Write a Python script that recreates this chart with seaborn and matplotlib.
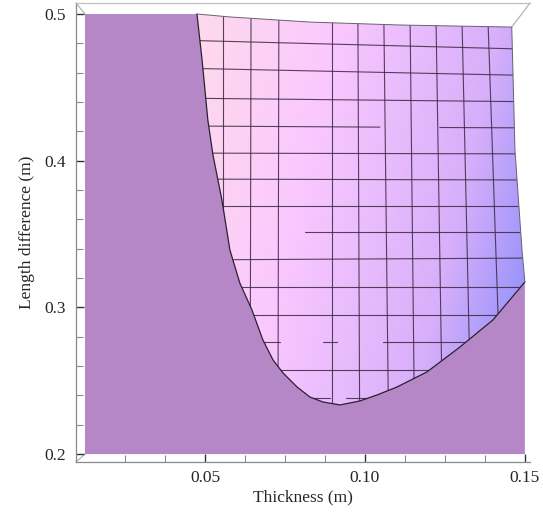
import numpy as np
import matplotlib
matplotlib.use("Agg")
import matplotlib.pyplot as plt
import seaborn as sns
from matplotlib.patches import Polygon
from matplotlib.ticker import FixedLocator

# ── data ────────────────────────────────────────────────────
thick_range = [0.0125, 0.15]      # x extent of the plotted region
diff_range = [0.2, 0.5]           # y extent of the plotted region

# outline of the surface patch, clockwise from the top-left corner
edge_thick = [0.0475, 0.0578, 0.0828, 0.1109, 0.1459, 0.1469, 0.1491, 0.1500,
              0.1400, 0.1297, 0.1194, 0.1100, 0.1038, 0.0984, 0.0922, 0.0869,
              0.0828, 0.0788, 0.0744, 0.0713, 0.0681, 0.0647, 0.0609, 0.0578,
              0.0553, 0.0525, 0.0509, 0.0491, 0.0475]
edge_diff = [0.5000, 0.4980, 0.4945, 0.4925, 0.4911, 0.4073, 0.3391, 0.3173,
             0.2914, 0.2730, 0.2560, 0.2457, 0.2403, 0.2362, 0.2335, 0.2355,
             0.2389, 0.2457, 0.2553, 0.2641, 0.2778, 0.2982, 0.3166, 0.3391,
             0.3732, 0.4039, 0.4277, 0.4686, 0.5000]

# mesh lines of the surface (thickness direction), x at top / bottom
mesh_x_top = [0.0556, 0.0644, 0.0731, 0.0897, 0.0978, 0.1059, 0.1141, 0.1222, 0.1303, 0.1384]
mesh_x_bot = [0.0556, 0.0641, 0.0728, 0.0897, 0.0984, 0.1075, 0.1156, 0.1244, 0.1334, 0.1431]

# mesh lines (length direction), y at the left / right side of the patch
mesh_y_left = [0.4823, 0.4632, 0.4427, 0.4237, 0.4052, 0.3875, 0.3691,
               0.3514, 0.3323, 0.3139, 0.2948, 0.2764, 0.2573, 0.2382]
mesh_y_right = [0.4755, 0.4577, 0.4400, 0.4223, 0.4046, 0.3868, 0.3691,
                0.3514, 0.3337, 0.3139, 0.2948, 0.2764, 0.2573, 0.2382]
full = [(0.04, 0.16)]
mesh_y_spans = [full, full, full, [(0.04, 0.1047), (0.1234, 0.16)], full, full, full,
                [(0.0813, 0.16)], full, full, full,
                [(0.0681, 0.0734), (0.0869, 0.0913), (0.1056, 0.16)], full,
                [(0.0838, 0.0891), (0.0941, 0.1016)]]

x_ticks = [0.05, 0.10, 0.15]
x_ticklabels = ["0.05", "0.10", "0.15"]
y_ticks = [0.2, 0.3, 0.4, 0.5]
y_ticklabels = ["0.2", "0.3", "0.4", "0.5"]

# ── style ───────────────────────────────────────────────────
sns.set_style("white")
plt.rcParams['font.family'] = ['Liberation Serif', 'DejaVu Serif']
plt.rcParams['font.size'] = 12.5

W, H = 543, 515
fig = plt.figure(figsize=(W / 100, H / 100), dpi=100)
ax = fig.add_axes([76 / W, 1 - 462 / H, (530 - 76) / W, (462 - 3) / H])
xlim = (0.00969, 0.1516)
ylim = (0.1946, 0.5075)
ax.set_xlim(*xlim)
ax.set_ylim(*ylim)

purple = '#B687C7'

# flat purple region: the box floor below / left of the surface outline
floor_x = [thick_range[0], thick_range[0]] + edge_thick[28:6:-1] + [thick_range[1]]
floor_y = [diff_range[0], diff_range[1]] + edge_diff[28:6:-1] + [diff_range[0]]
ax.fill(floor_x, floor_y, color=purple, lw=0, zorder=1)

# surface patch with pink -> blue shading
surf = Polygon(np.column_stack([edge_thick, edge_diff]), closed=True,
               facecolor='none', edgecolor='none')
ax.add_patch(surf)

gx0, gx1 = min(edge_thick), max(edge_thick)
gy0, gy1 = min(edge_diff), max(edge_diff)
nx, ny = 200, 200
xs = np.linspace(0, 1, nx)
ys = np.linspace(0, 1, ny)
XX, YY = np.meshgrid(xs, ys)            # YY = 0 at top row
s = np.clip(0.8 * XX + 0.22 * YY, 0, 1)
anchors = [0.0, 0.35, 0.75, 1.0]
reds = [255, 250, 215, 140]
greens = [218, 200, 175, 142]
blues = [235, 255, 250, 250]
img = np.dstack([np.interp(s, anchors, reds), np.interp(s, anchors, greens),
                 np.interp(s, anchors, blues)]) / 255.0
im = ax.imshow(img, extent=[gx0, gx1, gy0, gy1], origin='upper',
               aspect='auto', zorder=2, interpolation='bilinear')
im.set_clip_path(surf)

mesh_kw = dict(color='#3a2840', lw=0.8, alpha=0.85, zorder=3)
for xt, xb in zip(mesh_x_top, mesh_x_bot):
    ln, = ax.plot([xt, xb], [diff_range[1], diff_range[0]], **mesh_kw)
    ln.set_clip_path(surf)
for yl, yr, spans in zip(mesh_y_left, mesh_y_right, mesh_y_spans):
    for a, b in spans:
        yy = np.interp([a, b], [0.0475, 0.146], [yl, yr])
        ln, = ax.plot([a, b], yy, **mesh_kw)
        ln.set_clip_path(surf)

# outline of the patch
sns.lineplot(x=edge_thick[7:], y=edge_diff[7:], sort=False, estimator=None,
             color='#2a2030', lw=0.9, ax=ax, zorder=4)
ax.plot(edge_thick[:8], edge_diff[:8], color='#6a6070', lw=0.7, zorder=4)

# light grey edges of the 3D box
box_kw = dict(color='#b5b5b5', lw=0.9, zorder=0, clip_on=False)
ax.plot([xlim[0], thick_range[0]], [ylim[1], diff_range[1]], **box_kw)
ax.plot([xlim[0], thick_range[0]], [ylim[0], diff_range[0]], **box_kw)
ax.plot([xlim[1], edge_thick[4]], [ylim[1], edge_diff[4]], **box_kw)

for side in ['left', 'bottom', 'top']:
    ax.spines[side].set_color('#8a8a8a')
    ax.spines[side].set_linewidth(0.9)
ax.spines['top'].set_color('#c0c0c0')
ax.spines['right'].set_visible(False)

ax.xaxis.set_major_locator(FixedLocator(x_ticks))
ax.set_xticklabels(x_ticklabels)
ax.yaxis.set_major_locator(FixedLocator(y_ticks))
ax.set_yticklabels(y_ticklabels)
ax.xaxis.set_minor_locator(FixedLocator([0.025, 0.0375, 0.0625, 0.075, 0.0875,
                                         0.1125, 0.125, 0.1375]))
ax.yaxis.set_minor_locator(FixedLocator([0.22, 0.24, 0.26, 0.28, 0.32, 0.34, 0.36,
                                         0.38, 0.42, 0.44, 0.46, 0.48]))
ax.tick_params(which='major', direction='in', length=6, width=1.0, color='#333333',
               labelsize=12.5, pad=7, bottom=True, left=True, top=False, right=False)
ax.tick_params(which='minor', direction='in', length=5, width=0.8, color='#8a8a8a',
               bottom=True, left=True, top=False, right=False)
ax.tick_params(axis='x', which='major', pad=6)

ax.set_xlabel('Thickness (m)', fontsize=12.5, labelpad=2)
ax.set_ylabel('Length difference (m)', fontsize=12.5, labelpad=7)

fig.savefig('out.png', dpi=100)
